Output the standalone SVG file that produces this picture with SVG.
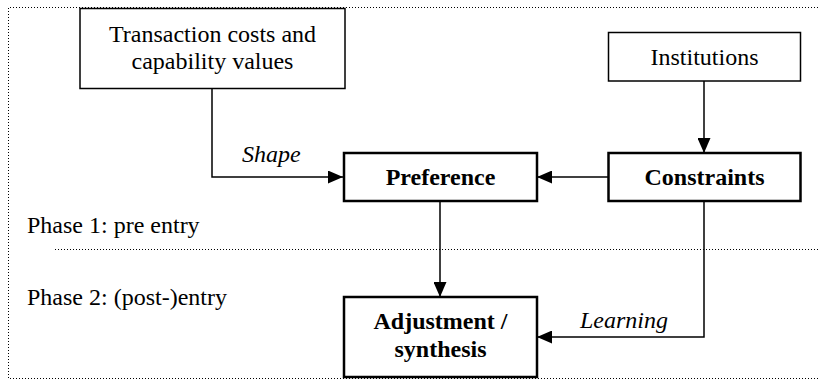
<svg xmlns="http://www.w3.org/2000/svg" width="818" height="380" viewBox="0 0 818 380">
<style>
.t{font-size:24px;fill:#000}
.b{font-weight:bold}
.i{font-style:italic}
.thin{fill:#fff;stroke:#000;stroke-width:1.5}
.thick{fill:#fff;stroke:#000;stroke-width:2.5}
.dot{fill:none;stroke:#000;stroke-width:1;stroke-dasharray:1 2}
.edge{fill:none;stroke:#000;stroke-width:1.5}
</style>
<defs>
<marker id="ah" viewBox="0 0 15 13" refX="15" refY="6.5" markerWidth="15" markerHeight="13" markerUnits="userSpaceOnUse" orient="auto">
<path d="M0,0 L15,6.5 L0,13 Z" fill="#000"/>
</marker>
</defs>
<g font-family="Liberation Serif, serif">
<g id="frame">
<path class="dot" d="M818,7.5 H8.5 V378.5 H818"/>
<path class="dot" d="M55,249.5 H818"/>
</g>
<g id="phase-labels">
<text class="t" x="27" y="233">Phase 1: pre entry</text>
<text class="t" x="27" y="305">Phase 2: (post-)entry</text>
</g>
<g id="connectors">
<path class="edge" d="M212,88 V177 H343" marker-end="url(#ah)"/>
<path class="edge" d="M704,81 V153" marker-end="url(#ah)"/>
<path class="edge" d="M608,177 H537" marker-end="url(#ah)"/>
<path class="edge" d="M440,201 V297" marker-end="url(#ah)"/>
<path class="edge" d="M704,201 V337 H537" marker-end="url(#ah)"/>
<text class="t i" x="242" y="162">Shape</text>
<text class="t i" x="580" y="328">Learning</text>
</g>
<g id="transaction">
<rect class="thin" x="80" y="8.5" width="265" height="80"/>
<text class="t" x="212.5" y="42" text-anchor="middle">Transaction costs and</text>
<text class="t" x="212.5" y="68.5" text-anchor="middle">capability values</text>
</g>
<g id="institutions">
<rect class="thin" x="608.5" y="32.5" width="192" height="48.5"/>
<text class="t" x="704.5" y="65" text-anchor="middle">Institutions</text>
</g>
<g id="preference">
<rect class="thick" x="344" y="153" width="193" height="48"/>
<text class="t b" x="440.5" y="185" text-anchor="middle">Preference</text>
</g>
<g id="constraints">
<rect class="thick" x="608.5" y="153" width="192" height="48"/>
<text class="t b" x="704.5" y="185" text-anchor="middle">Constraints</text>
</g>
<g id="adjustment">
<rect class="thick" x="344" y="297" width="193" height="80"/>
<text class="t b" x="440.5" y="329" text-anchor="middle">Adjustment /</text>
<text class="t b" x="440.5" y="357" text-anchor="middle">synthesis</text>
</g>
</g>
</svg>
